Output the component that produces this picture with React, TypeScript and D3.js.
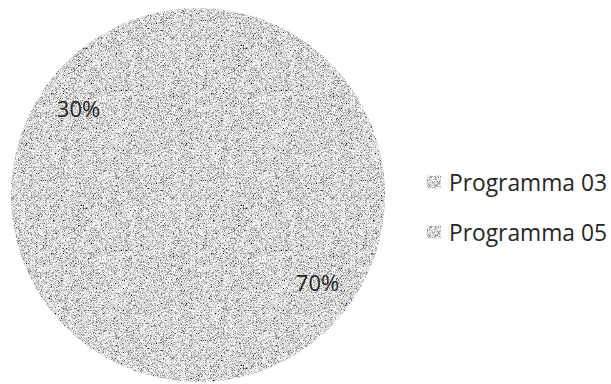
import React from "react";
import * as d3 from "d3";

// slice values (percent) and legend names
const categories = ["Programma 03", "Programma 05"];
const values = [70, 30];
const labels = ["70%", "30%"];

const W = 611;
const H = 384;

const App = () => {
  const cx = 198, cy = 195, r = 187;

  // Excel-style pie: first slice starts at 12 o'clock, clockwise
  const pie = d3.pie<number>().sort(null);
  const arcs = pie(values);
  const arc = d3.arc<d3.PieArcDatum<number>>().innerRadius(0).outerRadius(r);
  const labelArc = d3.arc<d3.PieArcDatum<number>>().innerRadius(r * 0.79).outerRadius(r * 0.79);

  // legend rows
  const legendY = d3.scalePoint<string>().domain(categories).range([182, 232]);

  return (
    <svg width={W} height={H} style={{ position: "absolute", left: 0, top: 0, background: "#fff" }}>
      <defs>
        <filter id="grain" x="0" y="0" width="100%" height="100%" filterUnits="objectBoundingBox">
          <feTurbulence type="fractalNoise" baseFrequency="1.6" numOctaves="1" seed="7" result="n" />
          <feColorMatrix in="n" type="matrix"
            values="2.6 0 0 0 -0.6  2.6 0 0 0 -0.6  2.6 0 0 0 -0.6  0 0 0 0 1" result="g" />
          <feComposite in="g" in2="SourceGraphic" operator="in" />
        </filter>
      </defs>
      <g transform={`translate(${cx},${cy})`}>
        {arcs.map((a, i) => (
          <path key={i} d={arc(a) || ""} fill="#b5b5b5" filter="url(#grain)" />
        ))}
        {arcs.map((a, i) => {
          const [x, y] = labelArc.centroid(a);
          return (
            <text key={i} x={x} y={y} textAnchor="middle" dominantBaseline="central"
              fontFamily="'Open Sans', sans-serif" fontSize={22} fill="#262626">
              {labels[i]}
            </text>
          );
        })}
      </g>
      {categories.map((c) => (
        <g key={c} transform={`translate(427,${legendY(c)})`}>
          <rect x={0} y={-6.5} width={14} height={13} fill="#b5b5b5" filter="url(#grain)" />
          <text x={22} y={0} dominantBaseline="central" fontFamily="'Open Sans', sans-serif"
            fontSize={22.8} fill="#262626">
            {c}
          </text>
        </g>
      ))}
    </svg>
  );
};

export default App;
